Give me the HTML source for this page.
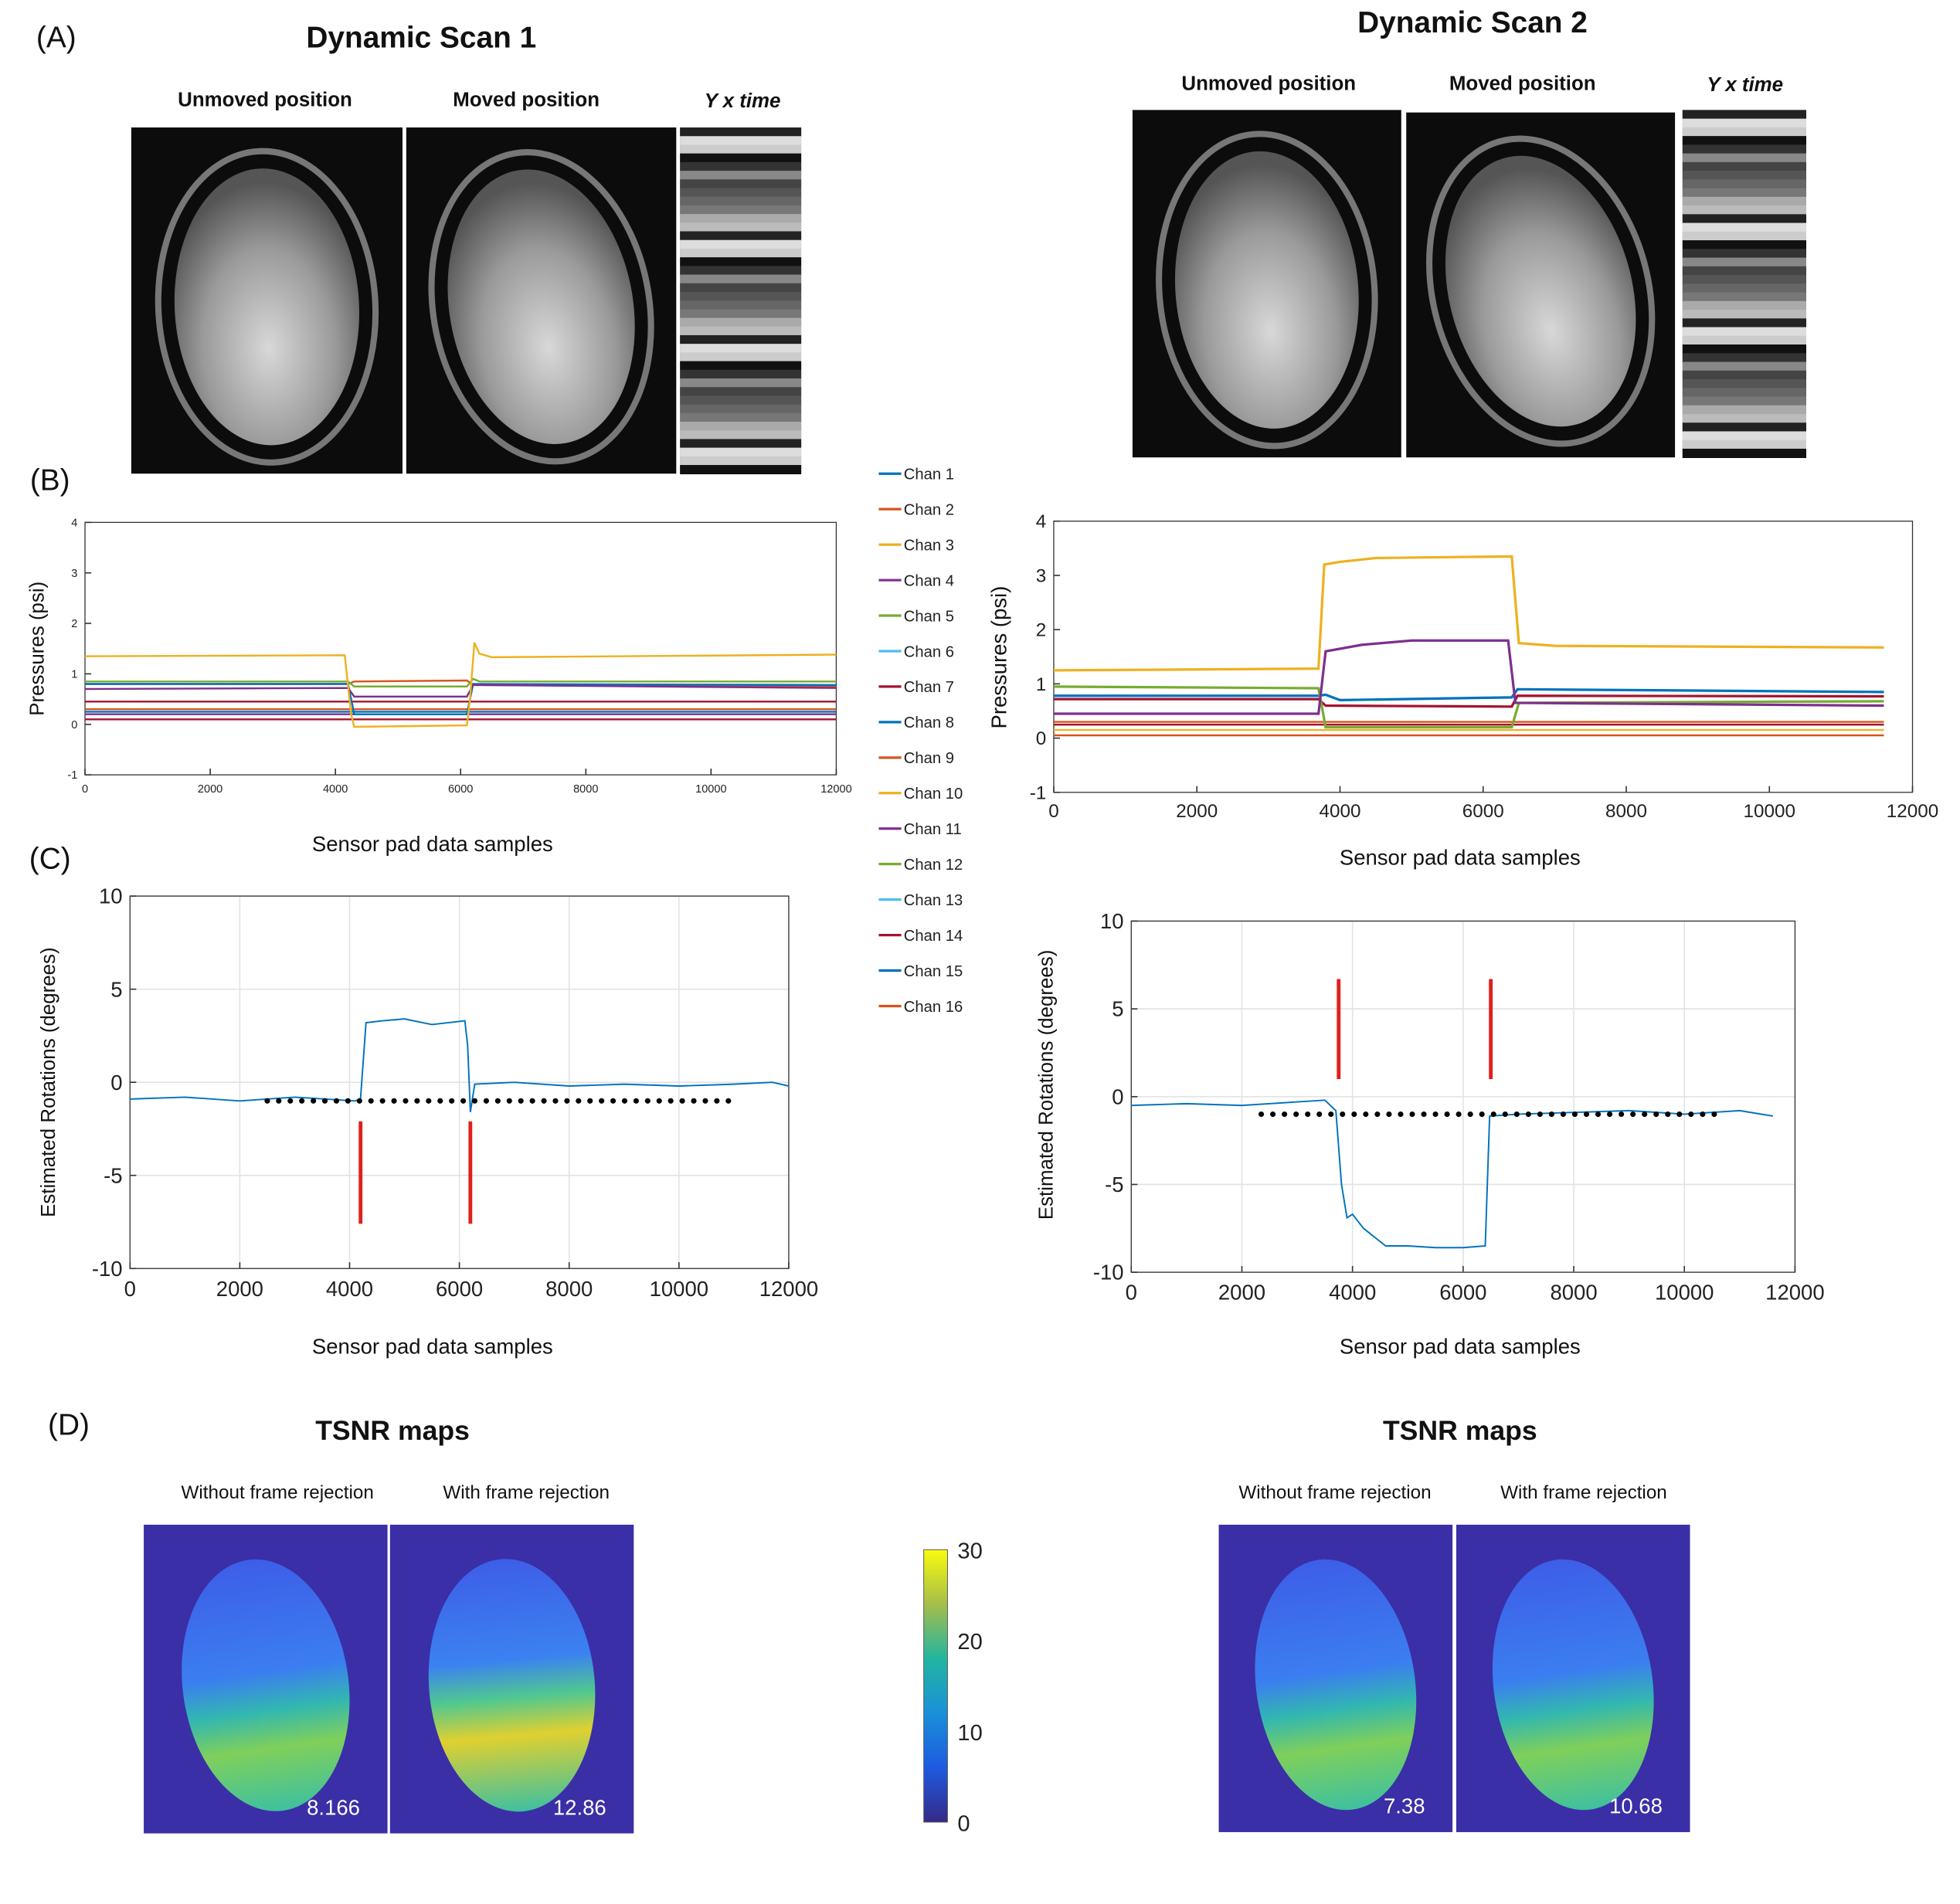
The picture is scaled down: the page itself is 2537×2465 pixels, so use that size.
<!DOCTYPE html>
<html><head><meta charset="utf-8"><style>
html,body{margin:0;padding:0;background:#fff}
svg{display:block;font-family:"Liberation Sans",sans-serif}
</style></head><body>
<svg id="fig" width="2537" height="2465" viewBox="0 0 1568 1523.5" xmlns="http://www.w3.org/2000/svg">
<defs>
<radialGradient id="brain" cx="50%" cy="65%" r="60%"><stop offset="0" stop-color="#d8d8d8"/><stop offset="0.6" stop-color="#9a9a9a"/><stop offset="1" stop-color="#555"/></radialGradient>
<linearGradient id="tsnrA" x1="0" y1="0" x2="0" y2="1"><stop offset="0" stop-color="#3d5ee8"/><stop offset="0.45" stop-color="#3b7ef0"/><stop offset="0.6" stop-color="#32b7b0"/><stop offset="0.75" stop-color="#7fd05a"/><stop offset="1" stop-color="#3fc0a0"/></linearGradient>
<linearGradient id="tsnrB" x1="0" y1="0" x2="0" y2="1"><stop offset="0" stop-color="#3d5ee8"/><stop offset="0.4" stop-color="#3b82f0"/><stop offset="0.55" stop-color="#50c890"/><stop offset="0.7" stop-color="#e0d030"/><stop offset="1" stop-color="#3fc0a0"/></linearGradient>
<linearGradient id="parula" x1="0" y1="1" x2="0" y2="0"><stop offset="0" stop-color="#352a87"/><stop offset="0.2" stop-color="#1e5ae0"/><stop offset="0.4" stop-color="#1a90d8"/><stop offset="0.6" stop-color="#22b5a0"/><stop offset="0.8" stop-color="#a5be4a"/><stop offset="1" stop-color="#f9fb0e"/></linearGradient>
</defs>
<g id="static"></g>
<g id="charts"></g>
</svg>
<script>
// ---------- chart data ----------
const legendLabels = ["Chan 1","Chan 2","Chan 3","Chan 4","Chan 5","Chan 6","Chan 7","Chan 8","Chan 9","Chan 10","Chan 11","Chan 12","Chan 13","Chan 14","Chan 15","Chan 16"];
const chanColors = ["#0072BD","#D95319","#EDB120","#7E2F8E","#77AC30","#4DBEEE","#A2142F","#0072BD","#D95319","#EDB120","#7E2F8E","#77AC30","#4DBEEE","#A2142F","#0072BD","#D95319"];
const pressTicksY = [-1,0,1,2,3,4];
const sampleTicksX = [0,2000,4000,6000,8000,10000,12000];
const rotTicksY = [-10,-5,0,5,10];
// Scan 1 pressures: [x, y] breakpoints
const p1Yellow = [[0,1.35],[4150,1.37],[4250,0.2],[4300,-0.05],[6100,-0.02],[6150,0.5],[6220,1.62],[6300,1.4],[6500,1.33],[12000,1.38]];
const p1Green = [[0,0.85],[4200,0.85],[4300,0.75],[6100,0.75],[6200,0.9],[6300,0.85],[12000,0.85]];
const p1Purple = [[0,0.7],[4200,0.72],[4300,0.55],[6100,0.55],[6200,0.78],[12000,0.72]];
const p1Blue = [[0,0.8],[4200,0.8],[4300,0.2],[6100,0.2],[6200,0.8],[12000,0.78]];
const p1Red = [[0,0.8],[4200,0.8],[4300,0.85],[6100,0.87],[6200,0.78],[12000,0.75]];
const p1Flat = [0.45,0.3,0.25,0.2,0.1];
// Scan 2 pressures
const p2Yellow = [[0,1.25],[3700,1.28],[3780,3.2],[4000,3.25],[4500,3.32],[6400,3.35],[6500,1.75],[7000,1.7],[11600,1.67]];
const p2Purple = [[0,0.45],[3700,0.45],[3800,1.6],[4300,1.72],[5000,1.8],[6350,1.8],[6450,0.65],[11600,0.6]];
const p2Green = [[0,0.95],[3700,0.92],[3800,0.2],[6400,0.2],[6500,0.65],[11600,0.68]];
const p2Blue = [[0,0.78],[3700,0.78],[3800,0.8],[4000,0.7],[6400,0.75],[6480,0.9],[11600,0.85]];
const p2Red = [[0,0.72],[3700,0.72],[3800,0.6],[6400,0.58],[6480,0.78],[11600,0.77]];
const p2Flat = [0.3,0.25,0.15,0.05];
// Rotations
const rot1 = [[0,-0.9],[1000,-0.8],[2000,-1],[3000,-0.8],[4100,-1],[4200,-0.9],[4300,3.2],[4600,3.3],[5000,3.4],[5500,3.1],[6100,3.3],[6150,2],[6200,-1.6],[6280,-0.1],[7000,0],[8000,-0.2],[9000,-0.1],[10000,-0.2],[11000,-0.1],[11700,0],[12000,-0.2]];
const rot1Dots = [2500,10900];
const rot1Red = [4200,6200];
const rot2 = [[0,-0.5],[1000,-0.4],[2000,-0.5],[3000,-0.3],[3500,-0.2],[3700,-0.8],[3800,-5],[3900,-6.9],[4000,-6.7],[4200,-7.5],[4600,-8.5],[5000,-8.5],[5500,-8.6],[6000,-8.6],[6400,-8.5],[6480,-1.1],[7000,-1],[8000,-0.9],[9000,-0.8],[10000,-1],[11000,-0.8],[11600,-1.1]];
const rot2Dots = [2350,10600];
const rot2Red = [3750,6500];
const cbTicks = [0,10,20,30];

const NS="http://www.w3.org/2000/svg";
function el(tag,attrs,parent,text){const e=document.createElementNS(NS,tag);for(const k in attrs)e.setAttribute(k,attrs[k]);if(text!==undefined)e.textContent=text;(parent||document.getElementById('charts')).appendChild(e);return e;}
const st=document.getElementById('static');

function txt(x,y,s,size,opts,name){const t=el('text',Object.assign({x:x,y:y,'font-size':size,'text-anchor':'middle',fill:'#111'},opts||{}),st,s);

return t;}

// panel letters & titles
txt(45,38,"(A)",24,{},'panel-a-label');
txt(40,392,"(B)",24,{},'panel-b-label');
txt(40,695,"(C)",24,{},'panel-c-label');
txt(55,1148,"(D)",24,{},'panel-d-label');
txt(337,38,"Dynamic Scan 1",24,{'font-weight':'bold'},'scan1-title');
txt(1178,26,"Dynamic Scan 2",24,{'font-weight':'bold'},'scan2-title');
txt(212,85,"Unmoved position",16,{'font-weight':'bold'},'scan1-unmoved-label');
txt(421,85,"Moved position",16,{'font-weight':'bold'},'scan1-moved-label');
txt(594,86,"Y x time",16,{'font-weight':'bold','font-style':'italic'},'scan1-yxtime-label');
txt(1015,72,"Unmoved position",16,{'font-weight':'bold'},'scan2-unmoved-label');
txt(1218,72,"Moved position",16,{'font-weight':'bold'},'scan2-moved-label');
txt(1396,73,"Y x time",16,{'font-weight':'bold','font-style':'italic'},'scan2-yxtime-label');

function brain(x,y,w,h,name,rot){
  const g=el('g',{},st);
  
  
  el('rect',{x:x,y:y,width:w,height:h,fill:'#0c0c0c'},g);
  const cx=x+w/2,cy=y+h/2+5;
  el('ellipse',{cx:cx,cy:cy,rx:w*0.4,ry:h*0.45,fill:'none',stroke:'#777','stroke-width':5,transform:`rotate(${rot} ${cx} ${cy})`},g);
  el('ellipse',{cx:cx,cy:cy,rx:w*0.34,ry:h*0.4,fill:'url(#brain)',transform:`rotate(${rot} ${cx} ${cy})`},g);
}
function stripes(x,y,w,h,name){
  const g=el('g',{},st);
  
  
  el('rect',{x:x,y:y,width:w,height:h,fill:'#999'},g);
  const shades=['#222','#555','#ccc','#777','#333','#bbb','#444','#ddd','#666','#111','#aaa','#888'];
  for(let i=0;i<40;i++){el('rect',{x:x,y:y+i*h/40,width:w,height:h/40+0.5,fill:shades[(i*7)%12]},g);}
}
brain(105,102,217,277,'scan1-unmoved-image',-3);
brain(325,102,216,277,'scan1-moved-image',-10);
stripes(544,102,97,277,'scan1-yxtime-image');
brain(906,88,215,278,'scan2-unmoved-image',-5);
brain(1125,90,215,276,'scan2-moved-image',-15);
stripes(1346,88,99,278,'scan2-yxtime-image');

// axis factory
function axes(box,xmin,xmax,ymin,ymax,xticks,yticks,fs,grid,name){
  const g=el('g',{});
  
  
  const sx=v=>box.x+(v-xmin)/(xmax-xmin)*box.w;
  const sy=v=>box.y+box.h-(v-ymin)/(ymax-ymin)*box.h;
  el('rect',{x:box.x,y:box.y,width:box.w,height:box.h,fill:'#fff'},g);
  xticks.forEach(v=>{
    if(grid) el('line',{x1:sx(v),x2:sx(v),y1:box.y,y2:box.y+box.h,stroke:'#e3e3e3'},g);
    el('line',{x1:sx(v),x2:sx(v),y1:box.y+box.h,y2:box.y+box.h-5,stroke:'#333'},g);
    const t=el('text',{x:sx(v),y:box.y+box.h+fs+5,'font-size':fs,'text-anchor':'middle',fill:'#222'},g,String(v));
    
    
  });
  yticks.forEach(v=>{
    if(grid) el('line',{x1:box.x,x2:box.x+box.w,y1:sy(v),y2:sy(v),stroke:'#e3e3e3'},g);
    el('line',{x1:box.x,x2:box.x+5,y1:sy(v),y2:sy(v),stroke:'#333'},g);
    const t=el('text',{x:box.x-6,y:sy(v)+fs*0.35,'font-size':fs,'text-anchor':'end',fill:'#222'},g,String(v));
    
    
  });
  el('rect',{x:box.x,y:box.y,width:box.w,height:box.h,fill:'none',stroke:'#333','stroke-width':0.8},g);
  return {g,sx,sy};
}
function line(ax,pts,color,w,name){
  const d=pts.map((p,i)=>(i?'L':'M')+ax.sx(p[0]).toFixed(1)+' '+ax.sy(p[1]).toFixed(1)).join(' ');
  const p=el('path',{d:d,fill:'none',stroke:color,'stroke-width':w},ax.g);
  
  
}
function flat(ax,vals,x0,x1,colors,name){
  vals.forEach((v,i)=>line(ax,[[x0,v],[x1,v]],colors[i%colors.length],1.5,name));
}

// B1
const b1=axes({x:68,y:418,w:601,h:202},0,12000,-1,4,sampleTicksX,pressTicksY,9,false,'pressure-chart-scan1');
flat(b1,p1Flat,0,12000,["#A2142F","#D95319","#0072BD","#7E2F8E","#A2142F"],'pressure-flat-line');
line(b1,p1Red,"#D95319",1.5,'pressure-line-chan2');
line(b1,p1Blue,"#0072BD",1.5,'pressure-line-chan1');
line(b1,p1Purple,"#7E2F8E",1.5,'pressure-line-chan4');
line(b1,p1Green,"#77AC30",1.5,'pressure-line-chan5');
line(b1,p1Yellow,"#EDB120",1.5,'pressure-line-chan10');
txt(35,519,"Pressures (psi)",16,{transform:'rotate(-90 35 519)'},'scan1-pressure-y-title');
txt(346,681,"Sensor pad data samples",17,{},'scan1-pressure-x-title');

// legend
legendLabels.forEach((s,i)=>{
  const y=379+i*28.4;
  const g=el('g',{});
  
  
  el('line',{x1:703,x2:721,y1:y,y2:y,stroke:chanColors[i],'stroke-width':2},g);
  el('text',{x:723,y:y+4.5,'font-size':12.5,fill:'#222'},g,s);
});

// B2
const b2=axes({x:843,y:417,w:687,h:217},0,12000,-1,4,sampleTicksX,pressTicksY,15,false,'pressure-chart-scan2');
flat(b2,p2Flat,0,11600,["#D95319","#A2142F","#EDB120","#D95319"],'pressure-flat-line');
line(b2,p2Red,"#A2142F",2,'pressure-line-chan7');
line(b2,p2Blue,"#0072BD",2,'pressure-line-chan1');
line(b2,p2Green,"#77AC30",2,'pressure-line-chan5');
line(b2,p2Purple,"#7E2F8E",2,'pressure-line-chan4');
line(b2,p2Yellow,"#EDB120",2,'pressure-line-chan3');
txt(805,526,"Pressures (psi)",17,{transform:'rotate(-90 805 526)'},'scan2-pressure-y-title');
txt(1168,692,"Sensor pad data samples",17,{},'scan2-pressure-x-title');

function dots(ax,range,name){
  for(let x=range[0];x<=range[1]+1;x+=210){
    const c=el('circle',{cx:ax.sx(x),cy:ax.sy(-1),r:2.2,fill:'#000'},ax.g);
    
    
  }
}
function reds(ax,xs,y0,y1,name){
  xs.forEach(x=>{const l=el('line',{x1:ax.sx(x),x2:ax.sx(x),y1:ax.sy(y0),y2:ax.sy(y1),stroke:'#e0201a','stroke-width':3},ax.g);
  
  });
}
// C1
const c1=axes({x:104,y:717,w:527,h:298},0,12000,-10,10,sampleTicksX,rotTicksY,17,true,'rotation-chart-scan1');
line(c1,rot1,"#0072BD",1.2,'rotation-line-scan1');
dots(c1,rot1Dots,'threshold-dot');
reds(c1,rot1Red,-2.1,-7.6,'motion-marker');
txt(44,866,"Estimated Rotations (degrees)",16,{transform:'rotate(-90 44 866)'},'scan1-rotation-y-title');
txt(346,1083,"Sensor pad data samples",17,{},'scan1-rotation-x-title');
// C2
const c2=axes({x:905,y:737,w:531,h:281},0,12000,-10,10,sampleTicksX,rotTicksY,17,true,'rotation-chart-scan2');
line(c2,rot2,"#0072BD",1.2,'rotation-line-scan2');
dots(c2,rot2Dots,'threshold-dot');
reds(c2,rot2Red,1,6.7,'motion-marker');
txt(842,868,"Estimated Rotations (degrees)",16,{transform:'rotate(-90 842 868)'},'scan2-rotation-y-title');
txt(1168,1083,"Sensor pad data samples",17,{},'scan2-rotation-x-title');

// D
txt(314,1152,"TSNR maps",22,{'font-weight':'bold'},'tsnr-title-scan1');
txt(1168,1152,"TSNR maps",22,{'font-weight':'bold'},'tsnr-title-scan2');
txt(222,1199,"Without frame rejection",15,{},'tsnr1-without-label');
txt(421,1199,"With frame rejection",15,{},'tsnr1-with-label');
txt(1068,1199,"Without frame rejection",15,{},'tsnr2-without-label');
txt(1267,1199,"With frame rejection",15,{},'tsnr2-with-label');
function tsnr(x,y,w,h,grad,val,name,rot){
  const g=el('g',{},st);
  
  
  el('rect',{x:x,y:y,width:w,height:h,fill:'#3a2fa6'},g);
  const cx=x+w/2,cy=y+h/2+5;
  el('ellipse',{cx:cx,cy:cy,rx:w*0.34,ry:h*0.41,fill:'url(#'+grad+')',transform:`rotate(${rot} ${cx} ${cy})`},g);
  const t=el('text',{x:x+w-22,y:y+h-15,'font-size':17,'text-anchor':'end',fill:'#fff'},g,val);
  
  
}
tsnr(115,1220,195,247,'tsnrA','8.166','tsnr1-without-map',-8);
tsnr(312,1220,195,247,'tsnrB','12.86','tsnr1-with-map',-5);
tsnr(975,1220,187,246,'tsnrA','7.38','tsnr2-without-map',-8);
tsnr(1165,1220,187,246,'tsnrA','10.68','tsnr2-with-map',-8);
// colorbar
const cb=el('rect',{x:739,y:1240,width:19,height:218,fill:'url(#parula)',stroke:'#555','stroke-width':0.6},st);


cbTicks.forEach(v=>{
  const y=1458-v/30*218;
  const t=el('text',{x:766,y:y+7,'font-size':18,fill:'#222'},st,String(v));
  
  
});
</script>
</body></html>
